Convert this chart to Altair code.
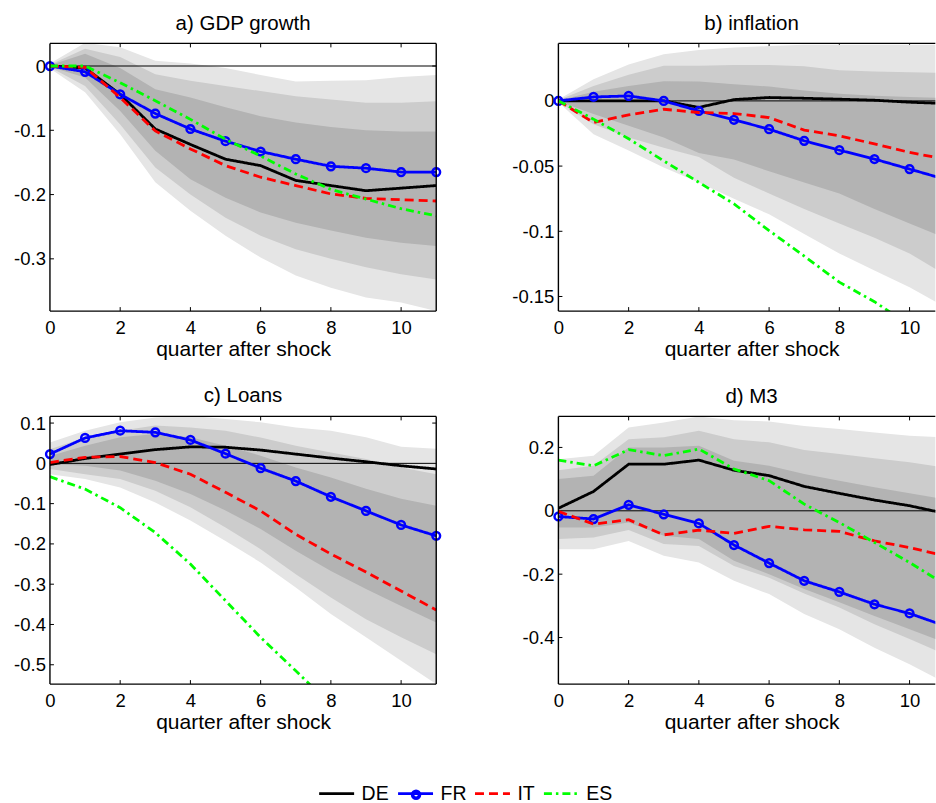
import altair as alt
import pandas as pd

# ---------------- data ----------------
QUARTERS = list(range(12))
COUNTRIES = ["DE", "FR", "IT", "ES"]
X_TICKS = [0, 2, 4, 6, 8, 10]
X_TITLE = "quarter after shock"

# a) GDP growth
GDP_TITLE = "a) GDP growth"
GDP_Y_RANGE = [-0.3813, 0.0352]
GDP_Y_TICKS = [-0.3, -0.2, -0.1, 0]
GDP_DE = [0, -0.003, -0.044, -0.098, -0.122, -0.145, -0.155, -0.178, -0.186, -0.194, -0.190, -0.186]
GDP_FR = [0, -0.009, -0.044, -0.074, -0.098, -0.117, -0.133, -0.145, -0.156, -0.159, -0.165, -0.165]
GDP_IT = [0, -0.002, -0.049, -0.101, -0.129, -0.155, -0.173, -0.186, -0.199, -0.206, -0.208, -0.210]
GDP_ES = [0, 0.0, -0.026, -0.054, -0.083, -0.114, -0.140, -0.168, -0.192, -0.207, -0.222, -0.233]
GDP_OUTER_HI = [0.004, 0.036, 0.029, 0.008, 0.004, -0.003, -0.014, -0.024, -0.023, -0.022, -0.017, -0.014]
GDP_MID_HI = [0.002, 0.027, 0.014, -0.013, -0.023, -0.031, -0.039, -0.047, -0.052, -0.057, -0.057, -0.055]
GDP_INNER_HI = [0.001, 0.019, -0.003, -0.036, -0.049, -0.064, -0.078, -0.088, -0.095, -0.100, -0.102, -0.102]
GDP_INNER_LO = [-0.001, -0.018, -0.070, -0.132, -0.176, -0.205, -0.228, -0.244, -0.256, -0.267, -0.275, -0.280]
GDP_MID_LO = [-0.002, -0.031, -0.091, -0.158, -0.200, -0.236, -0.264, -0.285, -0.300, -0.313, -0.324, -0.332]
GDP_OUTER_LO = [-0.004, -0.041, -0.106, -0.181, -0.225, -0.264, -0.298, -0.326, -0.345, -0.360, -0.368, -0.381]

# b) inflation
INF_TITLE = "b) inflation"
INF_Y_RANGE = [-0.1612, 0.0441]
INF_Y_TICKS = [-0.15, -0.1, -0.05, 0]
INF_DE = [0, 0, 0, 0, -0.005, 0.001, 0.0026, 0.002, 0.0013, 0.0005, -0.001, -0.002]
INF_FR = [0, 0.003, 0.0038, 0, -0.0077, -0.0145, -0.0217, -0.0306, -0.0378, -0.0446, -0.0523, -0.060]
INF_IT = [0, -0.0166, -0.0107, -0.0064, -0.0089, -0.0097, -0.0128, -0.0224, -0.0268, -0.033, -0.0395, -0.0446]
INF_ES = [0, -0.014, -0.029, -0.046, -0.0625, -0.079, -0.0995, -0.119, -0.139, -0.154, -0.172, -0.192]
INF_OUTER_HI = [0.001, 0.0166, 0.028, 0.0357, 0.039, 0.041, 0.042, 0.043, 0.043, 0.043, 0.043, 0.043]
INF_MID_HI = [0.0007, 0.0115, 0.020, 0.027, 0.027, 0.0276, 0.0276, 0.0265, 0.0235, 0.0225, 0.022, 0.0215]
INF_INNER_HI = [0.0003, 0.007, 0.0115, 0.015, 0.0148, 0.0128, 0.011, 0.008, 0.0055, 0.004, 0.003, 0.0022]
INF_INNER_LO = [-0.0003, -0.010, -0.019, -0.028, -0.040, -0.045, -0.054, -0.0625, -0.071, -0.083, -0.094, -0.105]
INF_MID_LO = [-0.0007, -0.018, -0.028, -0.036, -0.043, -0.059, -0.071, -0.083, -0.094, -0.105, -0.117, -0.133]
INF_OUTER_LO = [-0.001, -0.0255, -0.038, -0.051, -0.0625, -0.075, -0.087, -0.102, -0.117, -0.130, -0.143, -0.158]

# c) Loans
LOAN_TITLE = "c) Loans"
LOAN_Y_RANGE = [-0.548, 0.1166]
LOAN_Y_TICKS = [-0.5, -0.4, -0.3, -0.2, -0.1, 0, 0.1]
LOAN_DE = [-0.003, 0.012, 0.023, 0.034, 0.041, 0.040, 0.033, 0.023, 0.013, 0.004, -0.006, -0.014]
LOAN_FR = [0.023, 0.063, 0.081, 0.077, 0.058, 0.024, -0.012, -0.044, -0.083, -0.118, -0.153, -0.180]
LOAN_IT = [0.002, 0.015, 0.017, 0.002, -0.027, -0.072, -0.118, -0.176, -0.225, -0.270, -0.317, -0.364]
LOAN_ES = [-0.033, -0.064, -0.110, -0.172, -0.250, -0.341, -0.432, -0.515, -0.600, -0.690, -0.780, -0.870]
LOAN_OUTER_HI = [0.052, 0.081, 0.102, 0.114, 0.118, 0.110, 0.102, 0.089, 0.081, 0.065, 0.041, 0.036]
LOAN_MID_HI = [0.035, 0.064, 0.081, 0.094, 0.089, 0.081, 0.064, 0.044, 0.027, 0.011, -0.010, -0.027]
LOAN_INNER_HI = [0.018, 0.044, 0.065, 0.073, 0.065, 0.044, 0.019, -0.010, -0.035, -0.063, -0.088, -0.105]
LOAN_INNER_LO = [-0.002, -0.006, -0.018, -0.043, -0.076, -0.117, -0.163, -0.217, -0.267, -0.312, -0.354, -0.395]
LOAN_MID_LO = [-0.014, -0.027, -0.039, -0.068, -0.109, -0.159, -0.213, -0.275, -0.333, -0.387, -0.432, -0.474]
LOAN_OUTER_LO = [-0.027, -0.039, -0.060, -0.097, -0.142, -0.193, -0.246, -0.308, -0.374, -0.432, -0.490, -0.548]

# d) M3
M3_TITLE = "d) M3"
M3_Y_RANGE = [-0.547, 0.298]
M3_Y_TICKS = [-0.4, -0.2, 0, 0.2]
M3_DE = [0.008, 0.061, 0.147, 0.147, 0.160, 0.128, 0.111, 0.077, 0.055, 0.034, 0.016, -0.008]
M3_FR = [-0.018, -0.026, 0.019, -0.011, -0.040, -0.108, -0.165, -0.221, -0.256, -0.295, -0.324, -0.363]
M3_IT = [-0.002, -0.042, -0.028, -0.076, -0.061, -0.071, -0.049, -0.060, -0.065, -0.095, -0.116, -0.142]
M3_ES = [0.160, 0.142, 0.193, 0.174, 0.195, 0.132, 0.095, 0.021, -0.037, -0.100, -0.163, -0.232]
M3_OUTER_HI = [0.163, 0.174, 0.263, 0.279, 0.298, 0.286, 0.282, 0.268, 0.258, 0.247, 0.237, 0.232]
M3_MID_HI = [0.128, 0.142, 0.226, 0.232, 0.253, 0.226, 0.216, 0.192, 0.179, 0.166, 0.153, 0.137]
M3_INNER_HI = [0.100, 0.111, 0.200, 0.200, 0.205, 0.158, 0.142, 0.116, 0.095, 0.074, 0.055, 0.037]
M3_INNER_LO = [-0.053, -0.053, -0.037, -0.079, -0.089, -0.158, -0.200, -0.247, -0.289, -0.332, -0.374, -0.416]
M3_MID_LO = [-0.089, -0.084, -0.061, -0.105, -0.111, -0.174, -0.211, -0.261, -0.305, -0.358, -0.405, -0.453]
M3_OUTER_LO = [-0.121, -0.121, -0.095, -0.142, -0.163, -0.221, -0.263, -0.326, -0.374, -0.432, -0.484, -0.542]

# ---------------- styles ----------------
FONT = "Liberation Sans"
LINE_COLORS = ["#000000", "#0000ff", "#ff0000", "#00ff00"]
LINE_DASHES = [[1, 0], [1, 0], [9, 5], [8, 4, 2.5, 4]]
BAND_COLORS = ["#e5e5e5", "#cccccc", "#b3b3b3"]
LW = 2.8
PLOT_W = 386.7
PLOT_H = 268
CUT_W = 377.3
Q_PX = PLOT_W / 11
CUT_XMAX = CUT_W / Q_PX
TICK = 4
FRAME_W = 1.4
Y_LABEL_EXPR = ("datum.value < 0 ? '-' + format(-datum.value, '~g') "
                ": format(datum.value, '~g')")

LEGEND = alt.Legend(title=None, orient="none", legendX=268, legendY=731.7,
                    direction="horizontal", columns=4, symbolType="stroke",
                    symbolSize=1225, symbolStrokeWidth=LW, labelFontSize=19.5,
                    labelOffset=6, columnPadding=2, padding=0, labelColor="black",
                    labelFont=FONT)
DOT_LEGEND = alt.Legend(title=None, orient="none", legendX=361, legendY=746.7,
                        labelExpr="''", symbolSize=49, symbolStrokeWidth=3.5,
                        symbolStrokeColor="#0000ff", symbolFillColor="#0000ff",
                        padding=0)

PANELS = [
    dict(title=GDP_TITLE, y_range=GDP_Y_RANGE, y_ticks=GDP_Y_TICKS,
         lines=dict(DE=GDP_DE, FR=GDP_FR, IT=GDP_IT, ES=GDP_ES),
         bands=[(GDP_OUTER_LO, GDP_OUTER_HI), (GDP_MID_LO, GDP_MID_HI), (GDP_INNER_LO, GDP_INNER_HI)],
         right=False),
    dict(title=INF_TITLE, y_range=INF_Y_RANGE, y_ticks=INF_Y_TICKS,
         lines=dict(DE=INF_DE, FR=INF_FR, IT=INF_IT, ES=INF_ES),
         bands=[(INF_OUTER_LO, INF_OUTER_HI), (INF_MID_LO, INF_MID_HI), (INF_INNER_LO, INF_INNER_HI)],
         right=True),
    dict(title=LOAN_TITLE, y_range=LOAN_Y_RANGE, y_ticks=LOAN_Y_TICKS,
         lines=dict(DE=LOAN_DE, FR=LOAN_FR, IT=LOAN_IT, ES=LOAN_ES),
         bands=[(LOAN_OUTER_LO, LOAN_OUTER_HI), (LOAN_MID_LO, LOAN_MID_HI), (LOAN_INNER_LO, LOAN_INNER_HI)],
         right=False),
    dict(title=M3_TITLE, y_range=M3_Y_RANGE, y_ticks=M3_Y_TICKS,
         lines=dict(DE=M3_DE, FR=M3_FR, IT=M3_IT, ES=M3_ES),
         bands=[(M3_OUTER_LO, M3_OUTER_HI), (M3_MID_LO, M3_MID_HI), (M3_INNER_LO, M3_INNER_HI)],
         right=True),
]


def build_panel(p):
    right = p["right"]
    width = CUT_W if right else PLOT_W
    xmax = CUT_XMAX if right else 11
    xs = alt.Scale(domain=[0, xmax], nice=False, zero=False)
    ys = alt.Scale(domain=p["y_range"], nice=False, zero=False)
    x_axis = alt.Axis(values=X_TICKS, title=X_TITLE, format="d", domain=False,
                      ticks=False, tickSize=0, grid=False, labelFlush=False,
                      labelOverlap=False, labelPadding=7, titlePadding=2,
                      titleX=PLOT_W / 2)
    y_axis = alt.Axis(values=p["y_ticks"], title=None, domain=False, ticks=False,
                      tickSize=0, grid=False, labelPadding=4.5,
                      labelExpr=Y_LABEL_EXPR, labelOverlap=False)

    def X(field):
        return alt.X(f"{field}:Q", scale=xs, axis=x_axis)

    def Y(field):
        return alt.Y(f"{field}:Q", scale=ys, axis=y_axis)

    one = pd.DataFrame({"k": [0]})
    tick_x = pd.DataFrame({"t": X_TICKS[1:]})
    tick_y = pd.DataFrame({"t": p["y_ticks"]})
    rule = dict(color="black", strokeWidth=1)

    layers = [
        alt.Chart(tick_x).mark_rule(**rule).encode(
            x=X("t"), y=alt.value(0), y2=alt.value(TICK)),
        alt.Chart(tick_x).mark_rule(**rule).encode(
            x=X("t"), y=alt.value(PLOT_H - TICK), y2=alt.value(PLOT_H)),
        alt.Chart(tick_y).mark_rule(**rule).encode(
            y=Y("t"), x=alt.value(0), x2=alt.value(TICK)),
    ]
    if not right:
        layers.append(alt.Chart(tick_y).mark_rule(**rule).encode(
            y=Y("t"), x=alt.value(width - TICK), x2=alt.value(width)))

    band_cols = {"quarter": QUARTERS}
    for i, (lo, hi) in enumerate(p["bands"]):
        band_cols[f"lo{i}"] = lo
        band_cols[f"hi{i}"] = hi
    band_df = pd.DataFrame(band_cols)
    for i in range(len(p["bands"])):
        layers.append(alt.Chart(band_df).mark_area(color=BAND_COLORS[i], clip=True, opacity=1).encode(
            x=X("quarter"), y=Y(f"lo{i}"), y2=alt.Y2(field=f"hi{i}")))

    layers.append(alt.Chart(pd.DataFrame({"zero": [0]})).mark_rule(color="black", strokeWidth=1).encode(
        y=Y("zero")))

    line_df = pd.DataFrame({
        "quarter": QUARTERS * len(COUNTRIES),
        "country": [c for c in COUNTRIES for _ in QUARTERS],
        "value": [v for c in COUNTRIES for v in p["lines"][c]],
    })
    color_enc = alt.Color("country:N", scale=alt.Scale(domain=COUNTRIES, range=LINE_COLORS), legend=LEGEND)
    dash_enc = alt.StrokeDash("country:N", scale=alt.Scale(domain=COUNTRIES, range=LINE_DASHES), legend=LEGEND)
    for c in COUNTRIES:
        layers.append(alt.Chart(line_df).transform_filter(alt.datum.country == c).mark_line(
            strokeWidth=LW, clip=True).encode(x=X("quarter"), y=Y("value"), color=color_enc, strokeDash=dash_enc))
        if c == "FR":
            layers.append(alt.Chart(line_df).transform_filter(
                (alt.datum.country == "FR") & (alt.datum.quarter <= xmax)).mark_point(
                filled=False, size=60, strokeWidth=2.5, color="#0000ff", opacity=1).encode(
                x=X("quarter"), y=Y("value"),
                shape=alt.Shape("country:N", scale=alt.Scale(domain=["FR"], range=["circle"]),
                                legend=DOT_LEGEND)))

    frame = dict(color="black", strokeWidth=FRAME_W)
    layers += [
        alt.Chart(one).mark_rule(**frame).encode(x=alt.value(0), x2=alt.value(width), y=alt.value(0)),
        alt.Chart(one).mark_rule(**frame).encode(x=alt.value(0), x2=alt.value(width), y=alt.value(PLOT_H)),
        alt.Chart(one).mark_rule(**frame).encode(x=alt.value(0), y=alt.value(0), y2=alt.value(PLOT_H)),
    ]
    if not right:
        layers.append(alt.Chart(one).mark_rule(**frame).encode(
            x=alt.value(width), y=alt.value(0), y2=alt.value(PLOT_H)))

    return alt.layer(*layers).properties(
        width=width, height=PLOT_H,
        title=alt.TitleParams(p["title"], anchor="middle", offset=8,
                              dx=(PLOT_W - width) / 2))


panels = [build_panel(p) for p in PANELS]

chart = alt.concat(*panels, columns=2, spacing={"row": 105.4, "column": 122},
                   bounds="flush").resolve_scale(
    color="shared", strokeDash="shared", shape="shared").properties(
    padding={"left": 13, "top": 13, "right": 0, "bottom": 0}
).configure(font=FONT).configure_view(stroke=None).configure_axis(
    labelFontSize=18.5, titleFontSize=21, labelColor="black", titleColor="black",
    titleFontWeight="normal", labelFont=FONT, titleFont=FONT
).configure_title(fontSize=20.5, font=FONT, fontWeight="normal", color="black")

chart.save("out.html", embed_options={"renderer": "svg", "actions": False})
